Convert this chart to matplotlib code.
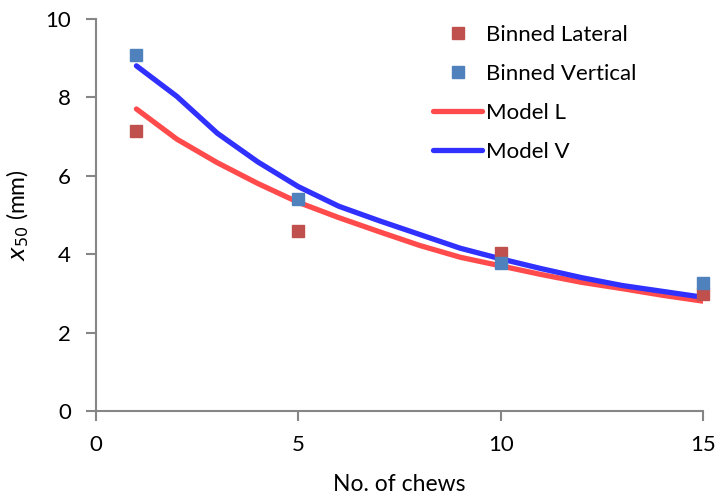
import matplotlib
matplotlib.use("Agg")
import matplotlib.pyplot as plt

plt.rcParams['font.family'] = ['Lato', 'DejaVu Sans']

# binned measurements
chews_binned = [1, 5, 10, 15]
binned_lateral = [7.14, 4.59, 4.03, 2.98]
binned_vertical = [9.08, 5.41, 3.78, 3.27]

# model curves
chews_model = [1, 2, 3, 4, 5, 6, 7, 8, 9, 10, 11, 12, 13, 14, 15]
model_l = [7.70, 6.93, 6.33, 5.80, 5.32, 4.93, 4.57, 4.22, 3.92, 3.70, 3.48, 3.28, 3.12, 2.95, 2.80]
model_v = [8.80, 8.02, 7.08, 6.35, 5.72, 5.22, 4.85, 4.50, 4.15, 3.88, 3.63, 3.40, 3.20, 3.05, 2.90]

fig = plt.figure(figsize=(7.16, 4.94), dpi=100)
ax = fig.add_axes([0.134, 0.168, 0.848, 0.794])

ax.plot(chews_binned, binned_lateral, 's', color='#C0504D', ms=8, label='Binned Lateral',
        zorder=3, clip_on=False)
ax.plot(chews_binned, binned_vertical, 's', color='#4F81BD', ms=8, label='Binned Vertical',
        zorder=3, clip_on=False)
ax.plot(chews_model, model_l, '-', color='#FF4B4B', lw=3.8, label='Model L', solid_capstyle='round')
ax.plot(chews_model, model_v, '-', color='#3030FF', lw=3.8, label='Model V', solid_capstyle='round')

ax.set_xlim(0, 15)
ax.set_ylim(0, 10)
ax.set_xticks([0, 5, 10, 15])
ax.set_yticks([0, 2, 4, 6, 8, 10])

for s in ['top', 'right']:
    ax.spines[s].set_visible(False)
for s in ['left', 'bottom']:
    ax.spines[s].set_color('#868686')
    ax.spines[s].set_linewidth(1.5)
ax.tick_params(direction='out', length=7, width=1.5, color='#868686', labelsize=16)
ax.tick_params(axis='x', pad=10)
ax.tick_params(axis='y', pad=11)

ax.set_xlabel('No. of chews', fontsize=16.5, labelpad=14)
ax.set_ylabel('$x_{50}$ (mm)', fontsize=16.5, labelpad=10)

ax.legend(loc='upper left', bbox_to_anchor=(0.523, 1.035), frameon=False, fontsize=16,
          handlelength=2.2, handletextpad=0.15, labelspacing=0.85)

fig.savefig('out.png', dpi=100)
